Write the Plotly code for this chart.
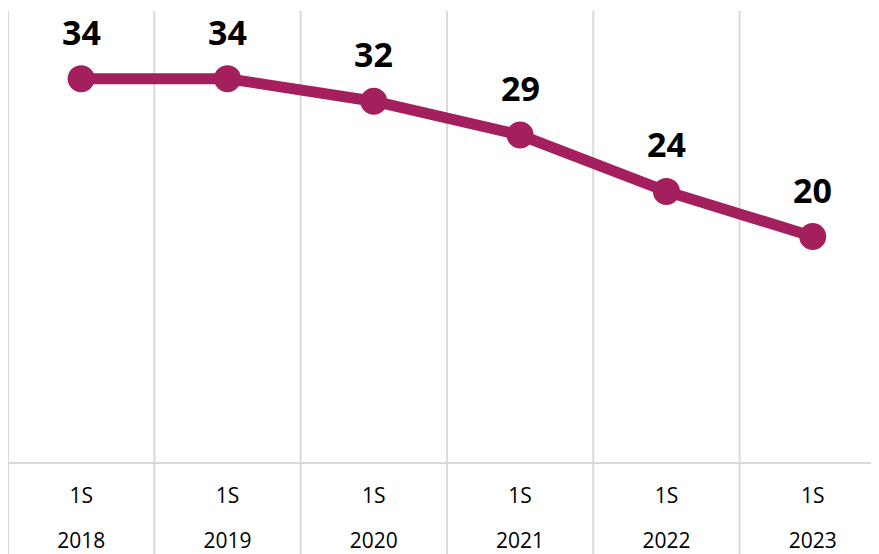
import plotly.graph_objects as go

halves = ["1S", "1S", "1S", "1S", "1S", "1S"]
years = ["2018", "2019", "2020", "2021", "2022", "2023"]
values = [34, 34, 32, 29, 24, 20]

COLOR = "#A31F5D"
GRID = "#D9D9D9"
FONT = "Open Sans"

xs = list(range(len(years)))

fig = go.Figure()
fig.add_trace(go.Scatter(
    x=xs, y=values, mode="lines+markers",
    line=dict(color=COLOR, width=11),
    marker=dict(color=COLOR, size=27),
    hoverinfo="skip", showlegend=False,
))
# invisible trace to activate second axis for year labels
fig.add_trace(go.Scatter(x=xs, y=values, xaxis="x2", mode="markers",
                         marker=dict(opacity=0), hoverinfo="skip", showlegend=False))

for x, v in zip(xs, values):
    fig.add_annotation(x=x, y=v, text=f"<b>{v}</b>", showarrow=False,
                       yshift=47, font=dict(family=FONT, size=34, color="#000000"))

for i in range(len(years) + 1):
    fig.add_shape(type="line", xref="x", yref="paper", x0=i - 0.5, x1=i - 0.5,
                  y0=-0.25, y1=1, line=dict(color=GRID, width=2), layer="below")

xrange = [-0.5, 5.453]
fig.update_layout(
    width=871, height=546,
    margin=dict(l=0, r=0, t=3, b=92),
    paper_bgcolor="white", plot_bgcolor="white",
    font=dict(family=FONT, color="#000000"),
    xaxis=dict(range=xrange, tickvals=xs, ticktext=halves, showgrid=False,
               zeroline=False, showline=True, linecolor=GRID, linewidth=2,
               ticks="", tickfont=dict(size=21, family=FONT, color="#000000"),
               ticklabelstandoff=14),
    xaxis2=dict(range=xrange, overlaying="x", side="bottom", anchor="y",
                tickvals=xs, ticktext=years, showgrid=False, zeroline=False,
                showline=False, ticks="",
                tickfont=dict(size=21, family=FONT, color="#000000"),
                ticklabelstandoff=64),
    yaxis=dict(range=[0, 40], showgrid=False, zeroline=False, showticklabels=False,
               showline=False, ticks=""),
)

fig.write_html("out.html")
